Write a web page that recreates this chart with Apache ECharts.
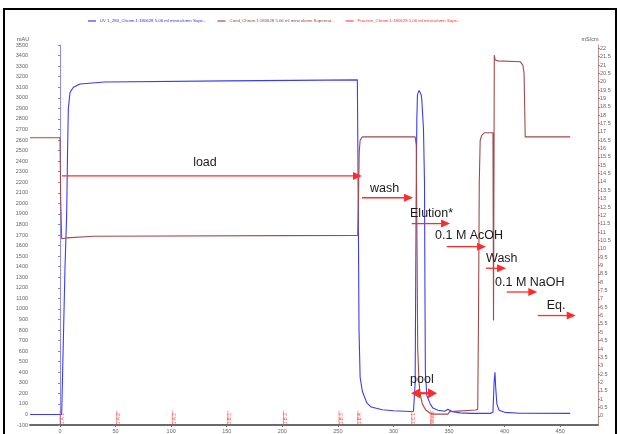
<!DOCTYPE html>
<html><head><meta charset="utf-8">
<script src="https://cdn.jsdelivr.net/npm/echarts@6/dist/echarts.min.js"></script>
<style>html,body{margin:0;padding:0;background:#fff}#c{width:620px;height:434px}</style>
</head><body><div id="c"></div>
<script>
// ---- data (volume in ml) ----
const uvName = "UV 1_280_Chrom.1:180628 5.06 ml miniculumn Supe...";
const condName = "Cond_Chrom.1:180628 5.06 ml minicolumn Supernat...";
const fracName = "Fraction_Chrom.1:180628 5.06 ml minicolumn Supe...";

const uvVolume = [-27, 1.5, 3, 4.5, 6, 6.8, 7.5, 9, 12, 18, 40, 150, 267.5, 268.3, 269, 270, 272, 276, 280, 290, 300, 315, 318, 319.5, 320.4, 321, 321.6, 323, 324.9, 325.5, 327, 327.9, 328.3, 328.7, 330, 333, 335.5, 340, 346, 349, 350.5, 353, 360, 370, 387, 389.5, 390.5, 391.3, 392, 393, 395, 400, 414, 459];
const uvAbs = [0, 0, 700, 1400, 1900, 2500, 2900, 3050, 3100, 3130, 3150, 3160, 3170, 2000, 800, 350, 220, 110, 70, 45, 35, 28, 30, 300, 2000, 2800, 3030, 3070, 3030, 2980, 2700, 2200, 1200, 400, 180, 100, 60, 40, 30, 50, 45, 25, 15, 10, 10, 20, 300, 400, 250, 100, 40, 20, 12, 10];

const condVolume = [-27, 0, 0.6, 1.5, 3, 6, 30, 267.8, 268.5, 269.2, 270, 272, 319.5, 320.5, 321.2, 321.8, 323, 324, 326, 329, 333, 336, 349, 350.5, 352, 374, 375.8, 376.5, 377.2, 378, 379.5, 382, 389.5, 390, 390.7, 391.5, 394, 414, 416.4, 417.5, 418.5, 420, 459];
const condValue = [16.65, 16.65, 13, 10.6, 10.55, 10.65, 10.75, 10.8, 13, 15.8, 16.5, 16.7, 16.7, 16.2, 10, 4, 2, 1.3, 0.7, 0.35, 0.15, 0.1, 0.1, 0.25, 0.3, 0.35, 0.4, 6, 14, 16.5, 16.8, 16.95, 16.95, 5.7, 21.6, 21.3, 21.25, 21.2, 21.0, 20.5, 16.7, 16.6, 16.7];

const fractionVolume = [0, 51, 101, 151, 201, 251, 268, 316.5, 333.5];
const fractionLabels = ["1.A.1", "1.A.2", "1.A.3", "1.B.1", "1.B.2", "1.B.3", "1.B.4", "1.C.1", "Waste"];

const xTicks = [0, 50, 100, 150, 200, 250, 300, 350, 400, 450];
const condTicks = [];
for (let i = 0; i <= 44; i++) condTicks.push(i * 0.5);

// ---- annotations (data coords: volume, mAU) ----
const notes = [
  { text: "load", at: [130.4, 2391], align: "center" },
  { text: "wash", at: [278.9, 2138], align: "left" },
  { text: "Elution*", at: [314.9, 1902], align: "left" },
  { text: "0.1 M AcOH", at: [337.4, 1696], align: "left" },
  { text: "Wash", at: [383.3, 1479], align: "left" },
  { text: "0.1 M NaOH", at: [391.4, 1254], align: "left" },
  { text: "Eq.", at: [437.9, 1031], align: "left" },
  { text: "pool", at: [314.9, 333], align: "left" }
];
const arrows = [
  { from: [1.8, 2260], to: [271.7, 2260] },
  { from: [271.7, 2053], to: [317.6, 2053] },
  { from: [316.4, 1808], to: [350.9, 1808] },
  { from: [347.9, 1589], to: [383.3, 1589] },
  { from: [383.3, 1385], to: [401.3, 1385] },
  { from: [401.9, 1160], to: [429.4, 1160] },
  { from: [429.8, 937], to: [464, 937] },
  { from: [315.8, 201], to: [339.2, 201], both: true }
];

const zip = (a, b) => a.map((v, i) => [v, b[i]]);
const RED = '#ff2a2a';
const UVC = '#3c3cf5';
const CONDC = '#a24a4a';
const FRC = '#ff4a4a';

const chart = echarts.init(document.getElementById('c'), null, { renderer: 'canvas' });
const axisFont = { fontSize: 5.5, color: '#666', fontFamily: 'Liberation Sans, Arial, sans-serif' };

const option = {
  backgroundColor: '#fff',
  animation: false,
  grid: { left: 30, right: 22, top: 45, bottom: 6, containLabel: false },
  legend: {
    top: 19, left: 88, padding: 0, itemWidth: 8, itemHeight: 1.2, itemGap: 11,
    icon: 'rect',
    textStyle: { fontSize: 4.3, fontFamily: 'Liberation Sans, Arial, sans-serif', padding: [0, 0, 0, -1] },
    data: [
      { name: uvName, textStyle: { color: '#3030e0' } },
      { name: condName, textStyle: { color: '#9a4040' } },
      { name: fracName, textStyle: { color: '#ff3030' } }
    ]
  },
  xAxis: {
    type: 'value', min: -27, max: 484,
    axisLine: { onZero: false, lineStyle: { color: '#6a6a6a', width: 2 } },
    axisTick: { show: true, length: 2, customValues: xTicks, lineStyle: { color: '#666' } },
    axisLabel: Object.assign({ customValues: xTicks, margin: 3 }, axisFont),
    splitLine: { show: false }
  },
  yAxis: [
    {
      type: 'value', min: -100, max: 3500, interval: 100, position: 'left',
      axisLine: { show: true, lineStyle: { color: '#8c8cf0', width: 1 } },
      axisTick: { show: true, length: 2, lineStyle: { color: '#888' } },
      axisLabel: Object.assign({ margin: 2, formatter: v => String(v) }, axisFont),
      splitLine: { show: false }
    },
    {
      type: 'value', min: -0.55, max: 22.2, position: 'right',
      name: 'mS/cm', nameLocation: 'end', nameGap: 3,
      nameTextStyle: { fontSize: 5.5, color: '#555', align: 'center', padding: [0, 16, 0, 0] },
      axisLine: { show: true, lineStyle: { color: '#c98a8a', width: 1 } },
      axisTick: { show: true, length: 2, customValues: condTicks, lineStyle: { color: '#888' } },
      axisLabel: Object.assign({ margin: 2, customValues: condTicks, formatter: v => String(v) }, axisFont),
      splitLine: { show: false }
    }
  ],
  series: [
    {
      name: uvName, type: 'line', yAxisIndex: 0, data: zip(uvVolume, uvAbs),
      showSymbol: false, symbol: 'none', smooth: false,
      lineStyle: { color: UVC, width: 1.1 }, itemStyle: { color: UVC }, z: 3
    },
    {
      name: condName, type: 'line', yAxisIndex: 1, data: zip(condVolume, condValue),
      showSymbol: false, symbol: 'none',
      lineStyle: { color: CONDC, width: 1.1 }, itemStyle: { color: CONDC }, z: 4
    },
    {
      name: fracName, type: 'custom', yAxisIndex: 0,
      data: fractionVolume.map(v => [v, -100]),
      encode: { x: 0, y: 1 },
      itemStyle: { color: FRC },
      renderItem: function (params, api) {
        const base = api.coord([api.value(0), -100]);
        const label = fractionLabels[params.dataIndex];
        const len = label.length * 2.5 + 2;
        return {
          type: 'group', children: [
            { type: 'line', shape: { x1: base[0], y1: base[1], x2: base[0], y2: base[1] - len }, style: { stroke: FRC, lineWidth: 0.6 } },
            { type: 'text', x: base[0] + 2.3, y: base[1] - 1, rotation: Math.PI / 2,
              style: { text: label, fill: FRC, font: '4.6px Liberation Sans, Arial, sans-serif', textAlign: 'left', textVerticalAlign: 'middle' } }
          ]
        };
      },
      z: 5
    }
  ]
};
chart.setOption(option);

// ---- annotation graphics anchored in data coordinates ----
const toPx = p => chart.convertToPixel({ xAxisIndex: 0, yAxisIndex: 0 }, p);
const g = [];
g.push({ type: 'rect', shape: { x: 4, y: 9, width: 612, height: 440 }, style: { fill: 'none', stroke: '#000', lineWidth: 2 }, z: 100 });
// left axis unit label, placed just above the top of the mAU axis
const axTop = toPx([-27, 3500]);
g.push({ type: 'text', x: axTop[0] - 7, y: axTop[1] - 6, z: 50,
  style: { text: 'mAU', fill: '#555', font: '5.5px Liberation Sans, Arial, sans-serif', textAlign: 'center', textVerticalAlign: 'middle' } });
notes.forEach(n => {
  const p = toPx(n.at);
  g.push({ type: 'text', x: p[0], y: p[1], z: 50,
    style: { text: n.text, fill: '#1a1a1a', font: '12.5px Liberation Sans, Arial, sans-serif', textAlign: n.align, textVerticalAlign: 'middle' } });
});
function head(tip, dir, L, W) {
  return [[tip[0], tip[1]], [tip[0] - dir * L, tip[1] - W], [tip[0] - dir * L, tip[1] + W]];
}
arrows.forEach(a => {
  const p1 = toPx(a.from), p2 = toPx(a.to);
  const lw = a.both ? 2.2 : 1.3;
  const L = 9, W = a.both ? 5 : 4;
  g.push({ type: 'line', z: 50, shape: { x1: p1[0] + (a.both ? L - 1 : 0), y1: p1[1], x2: p2[0] - L + 1, y2: p2[1] }, style: { stroke: RED, lineWidth: lw } });
  g.push({ type: 'polygon', z: 50, shape: { points: head(p2, 1, L, W) }, style: { fill: RED } });
  if (a.both) g.push({ type: 'polygon', z: 50, shape: { points: head(p1, -1, L, W) }, style: { fill: RED } });
});
chart.setOption({ graphic: g });
</script>
</body></html>
